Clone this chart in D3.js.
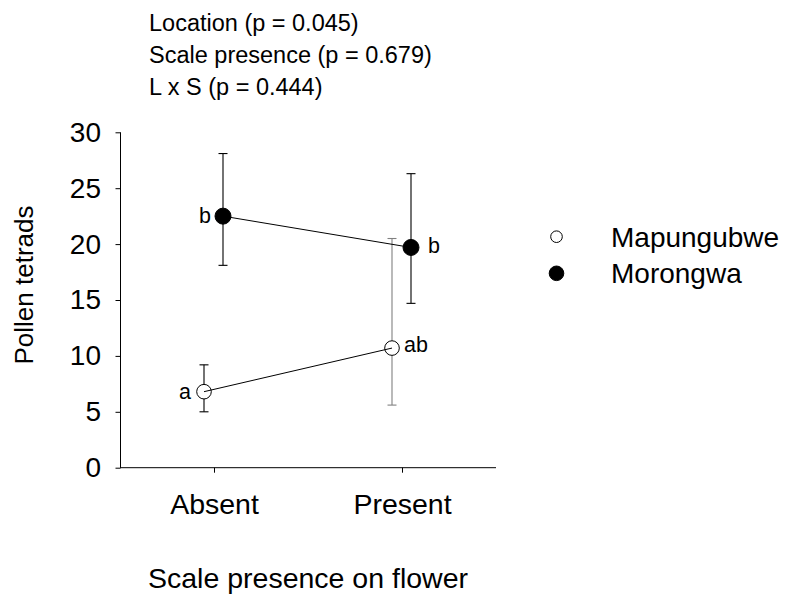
<!DOCTYPE html>
<html>
<head>
<meta charset="utf-8">
<script src="https://cdn.jsdelivr.net/npm/d3@7"></script>
<style>
  html, body { margin: 0; padding: 0; background: #fff; }
  svg { display: block; font-family: "Liberation Sans", Arial, sans-serif; }
</style>
</head>
<body>
<svg id="chart" width="792" height="596"></svg>
<script>
// Treatment levels along the x axis
const categories = ["Absent", "Present"];
const series = ["Mapungubwe", "Morongwa"];

// Mean pollen tetrads per site and level, with error bar ends
const mapungubweMean  = [6.8, 10.7];
const mapungubweLow   = [5.0, 5.6];
const mapungubweHigh  = [9.2, 20.5];
const morongwaMean    = [22.5, 19.7];
const morongwaLow     = [18.1, 14.7];
const morongwaHigh    = [28.1, 26.3];

// Post-hoc group letters
const mapungubweLetters = ["a", "ab"];
const morongwaLetters   = ["b", "b"];

const yTicks = [0, 5, 10, 15, 20, 25, 30];
const statsLines = ["Location (p = 0.045)", "Scale presence (p = 0.679)", "L x S (p = 0.444)"];

const svg = d3.select("#chart");
const FONT = "Liberation Sans, Arial, sans-serif";

const x = d3.scalePoint().domain(categories).range([120, 496]).padding(0.5);
const y = d3.scaleLinear().domain([0, 30]).range([467.7, 132.3]);

// Per-site horizontal offset so the two groups do not overlap
const offset = { Mapungubwe: -10, Morongwa: 9 };

const rows = [];
categories.forEach((c, i) => {
  rows.push({ site: "Mapungubwe", cat: c, mean: mapungubweMean[i], lo: mapungubweLow[i], hi: mapungubweHigh[i], letter: mapungubweLetters[i], i });
  rows.push({ site: "Morongwa", cat: c, mean: morongwaMean[i], lo: morongwaLow[i], hi: morongwaHigh[i], letter: morongwaLetters[i], i });
});
const px = d => x(d.cat) + offset[d.site];

// Axes
const yAxis = d3.axisLeft(y).tickValues(yTicks).tickSize(5).tickPadding(14.5).tickSizeOuter(0);
const gy = svg.append("g").attr("transform", "translate(120.5,0)").call(yAxis);
gy.select(".domain").attr("stroke", "#000").attr("d", `M0,${y(30)}V${y(0)}`);
gy.selectAll(".tick line").attr("stroke", "#000");
gy.selectAll(".tick text").attr("font-size", 28).attr("fill", "#000").attr("font-family", FONT);

const xAxis = d3.axisBottom(x).tickSize(5).tickPadding(21.4).tickSizeOuter(0);
const gx = svg.append("g").attr("transform", `translate(0,${y(0)})`).call(xAxis);
gx.select(".domain").attr("stroke", "#000").attr("d", "M120,0H496");
gx.selectAll(".tick line").attr("stroke", "#000");
gx.selectAll(".tick text").attr("font-size", 28.5).attr("fill", "#000").attr("font-family", FONT);

// Axis titles
svg.append("text").attr("x", 308).attr("y", 588).attr("text-anchor", "middle")
  .attr("font-size", 28.5).text("Scale presence on flower");
svg.append("text").attr("transform", "translate(33,285) rotate(-90)").attr("text-anchor", "middle")
  .attr("font-size", 26).text("Pollen tetrads");

// Error bars
const cap = 4.5;
const eb = svg.append("g").selectAll("g").data(rows).join("g")
  .attr("stroke", d => (d.site === "Mapungubwe" && d.cat === "Present") ? "#808080" : "#000")
  .attr("stroke-width", 1.1);
eb.append("line").attr("x1", px).attr("x2", px).attr("y1", d => y(d.lo)).attr("y2", d => y(d.hi));
eb.append("line").attr("x1", d => px(d) - cap).attr("x2", d => px(d) + cap).attr("y1", d => y(d.hi)).attr("y2", d => y(d.hi));
eb.append("line").attr("x1", d => px(d) - cap).attr("x2", d => px(d) + cap).attr("y1", d => y(d.lo)).attr("y2", d => y(d.lo));

// Markers
svg.append("g").selectAll("circle").data(rows).join("circle")
  .attr("cx", px).attr("cy", d => y(d.mean))
  .attr("r", d => d.site === "Morongwa" ? 8 : 7.3)
  .attr("fill", d => d.site === "Morongwa" ? "#000" : "#fff")
  .attr("stroke", "#000").attr("stroke-width", 1);

// Connecting lines per site
const line = d3.line().x(px).y(d => y(d.mean));
series.forEach(s => {
  svg.append("path").datum(rows.filter(r => r.site === s))
    .attr("d", line).attr("fill", "none").attr("stroke", "#000").attr("stroke-width", 1);
});

// Group letters
const letterPos = {
  "Mapungubwe-0": { dx: -13, dy: 7.5, anchor: "end" },
  "Mapungubwe-1": { dx: 12, dy: 3.5, anchor: "start" },
  "Morongwa-0": { dx: -12, dy: 7, anchor: "end" },
  "Morongwa-1": { dx: 17, dy: 6, anchor: "start" }
};
svg.append("g").selectAll("text").data(rows).join("text")
  .attr("x", d => px(d) + letterPos[d.site + "-" + d.i].dx)
  .attr("y", d => y(d.mean) + letterPos[d.site + "-" + d.i].dy)
  .attr("text-anchor", d => letterPos[d.site + "-" + d.i].anchor)
  .attr("font-size", 21.5).text(d => d.letter);

// Legend
const legend = svg.append("g");
series.forEach((s, i) => {
  const cy = 236.7 + i * 36.6;
  legend.append("circle").attr("cx", 556.5).attr("cy", cy)
    .attr("r", s === "Morongwa" ? 7.3 : 5.8)
    .attr("fill", s === "Morongwa" ? "#000" : "#fff").attr("stroke", "#000").attr("stroke-width", 1);
  legend.append("text").attr("x", 611).attr("y", cy + 10).attr("font-size", 28).text(s);
});

// Model statistics
svg.append("g").selectAll("text").data(statsLines).join("text")
  .attr("x", 149).attr("y", (d, i) => 31 + i * 32)
  .attr("font-size", 23.5).text(d => d);
</script>
</body>
</html>
